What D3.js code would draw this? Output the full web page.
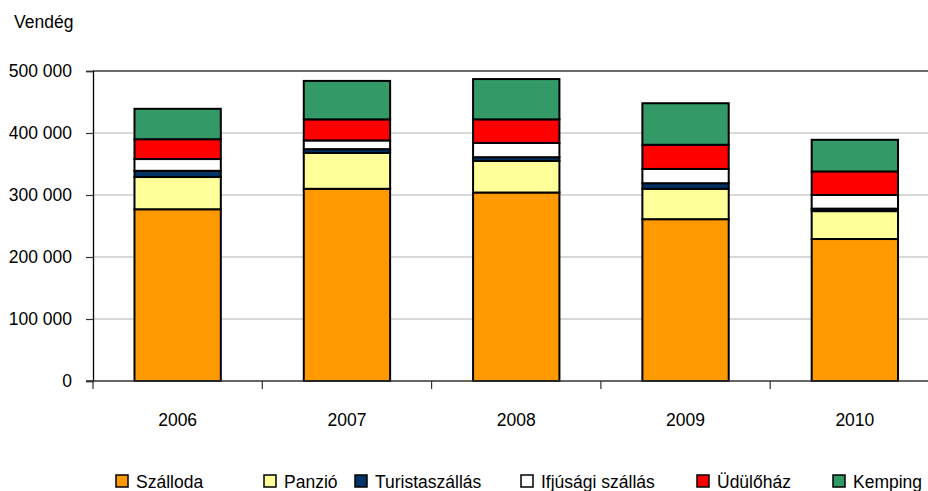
<!DOCTYPE html>
<html>
<head>
<meta charset="utf-8">
<script src="https://cdn.jsdelivr.net/npm/d3@7"></script>
<style>
  body { margin: 0; background: #fff; }
  svg { display: block; font-family: "Liberation Sans", Arial, sans-serif; }
</style>
</head>
<body>
<div id="chart"></div>
<script>
// Data
const years = ['2006', '2007', '2008', '2009', '2010'];
const seriesNames = ['Szálloda', 'Panzió', 'Turistaszállás', 'Ifjúsági szállás', 'Üdülőház', 'Kemping'];
const szalloda = [277000, 310000, 304000, 261000, 229000];
const panzio   = [52000, 58000, 51000, 49000, 45000];
const turista  = [10000, 6000, 6000, 9000, 4000];
const ifjusagi = [19000, 14000, 23000, 23000, 22000];
const udulohaz = [32000, 34000, 38000, 39000, 38000];
const kemping  = [49000, 62000, 65000, 67000, 51000];
const yTicks = [0, 100000, 200000, 300000, 400000, 500000];

const colors = ['#FF9900', '#FFFF99', '#003366', '#FFFFFF', '#FF0000', '#339966'];

const width = 928, height = 491;
const margin = {top: 71, right: -11.5, bottom: 110, left: 93};
const innerW = width - margin.left - margin.right;
const innerH = height - margin.top - margin.bottom;

const svg = d3.select('#chart').append('svg')
  .attr('width', width)
  .attr('height', height);

const g = svg.append('g')
  .attr('transform', `translate(${margin.left},${margin.top})`);

// build table for the stack
const allSeries = [szalloda, panzio, turista, ifjusagi, udulohaz, kemping];
const table = years.map((yr, i) => {
  const row = {year: yr};
  seriesNames.forEach((s, j) => { row[s] = allSeries[j][i]; });
  return row;
});
const stacked = d3.stack().keys(seriesNames)(table);

const x = d3.scaleBand()
  .domain(years)
  .range([0, innerW])
  .paddingInner(0.49)
  .paddingOuter(0.245);

const y = d3.scaleLinear()
  .domain([0, 500000])
  .range([innerH, 0]);

const fmt = d3.formatLocale({decimal: ',', thousands: ' ', grouping: [3], currency: ['', '']}).format(',');

// gridlines
g.append('g')
  .selectAll('line')
  .data(yTicks.filter(d => d > 0))
  .join('line')
  .attr('x1', 0)
  .attr('x2', innerW)
  .attr('y1', d => y(d))
  .attr('y2', d => y(d))
  .attr('stroke', d => d === 500000 ? '#6b6b6b' : '#b3b3b3')
  .attr('stroke-width', d => d === 500000 ? 2 : 1.2);

// y axis
const yAxis = g.append('g')
  .call(d3.axisLeft(y).tickValues(yTicks).tickFormat(fmt).tickSize(7).tickPadding(14));
yAxis.select('.domain').attr('stroke', '#000').attr('stroke-width', 1.3);
yAxis.selectAll('.tick line').attr('stroke', '#333').attr('stroke-width', 1.2);
yAxis.selectAll('text')
  .style('font-size', '17.5px')
  .attr('fill', '#000');

// bars
g.append('g')
  .selectAll('g')
  .data(stacked)
  .join('g')
  .attr('fill', (d, i) => colors[i])
  .selectAll('rect')
  .data(d => d)
  .join('rect')
  .attr('x', d => x(d.data.year))
  .attr('y', d => y(d[1]))
  .attr('width', x.bandwidth())
  .attr('height', d => y(d[0]) - y(d[1]))
  .attr('stroke', '#000')
  .attr('stroke-width', 2);

// x axis line and category separator ticks
g.append('line')
  .attr('x1', -7)
  .attr('x2', innerW)
  .attr('y1', innerH)
  .attr('y2', innerH)
  .attr('stroke', '#333')
  .attr('stroke-width', 1.3);

const boundaries = d3.range(years.length + 1).map(i => i * x.step());
g.append('g')
  .selectAll('line')
  .data(boundaries)
  .join('line')
  .attr('x1', d => d)
  .attr('x2', d => d)
  .attr('y1', innerH)
  .attr('y2', innerH + 8)
  .attr('stroke', '#333')
  .attr('stroke-width', 1.2);

g.append('g')
  .selectAll('text')
  .data(years)
  .join('text')
  .attr('x', d => x(d) + x.bandwidth() / 2)
  .attr('y', innerH + 45)
  .attr('text-anchor', 'middle')
  .style('font-size', '17.5px')
  .text(d => d);

// y axis title
svg.append('text')
  .attr('x', 14)
  .attr('y', 28)
  .style('font-size', '17.5px')
  .text('Vendég');

// legend
const legendX = [116, 264, 355, 521, 697, 833];
const legend = svg.append('g')
  .selectAll('g')
  .data(seriesNames)
  .join('g')
  .attr('transform', (d, i) => `translate(${legendX[i]},475)`);

legend.append('rect')
  .attr('width', 12)
  .attr('height', 12)
  .attr('fill', (d, i) => colors[i])
  .attr('stroke', '#000')
  .attr('stroke-width', 1.5);

legend.append('text')
  .attr('x', 20)
  .attr('y', 12.5)
  .style('font-size', '17.5px')
  .text(d => d);
</script>
</body>
</html>
